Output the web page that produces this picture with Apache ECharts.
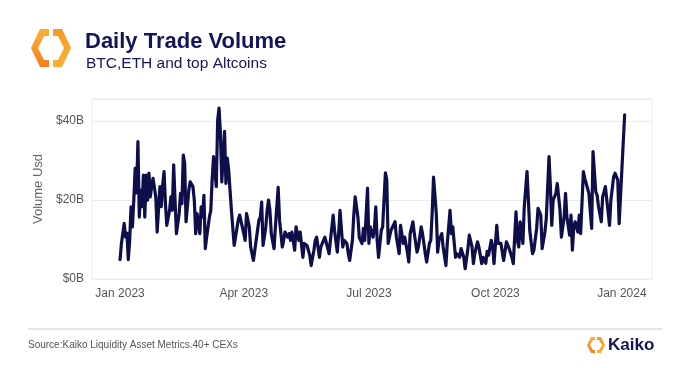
<!DOCTYPE html>
<html>
<head>
<meta charset="utf-8">
<script src="https://cdn.jsdelivr.net/npm/echarts@6/dist/echarts.min.js"></script>
<style>
html,body{margin:0;padding:0;background:#fff;}
#chart{width:680px;height:368px;}
</style>
</head>
<body>
<div id="chart"></div>
<script>
// ---- data ----
const startDate = [2023, 0, 1];
const dayOffsets = [0,1,3,4,5,6,7,8,9,10,11,12,13,14,15,16,17,18,19,20,21,22,23,24,26,27,29,30,31,32,33,34,36,37,38,39,40,41,43,44,45,46,47,48,50,51,53,54,55,56,58,59,60,61,62,63,65,66,67,68,70,71,72,73,74,76,77,78,79,81,83,84,86,87,88,90,91,92,94,95,97,99,101,102,103,104,106,107,108,109,110,112,113,115,116,118,119,120,122,123,124,125,127,128,129,130,131,133,134,135,136,138,139,141,142,143,145,146,148,149,150,152,153,155,156,158,159,160,162,163,165,166,167,169,170,171,173,174,176,177,178,180,181,182,184,185,186,187,188,190,191,193,194,195,197,198,200,201,203,204,206,207,209,210,211,213,214,216,217,219,220,222,223,225,226,227,228,230,231,232,234,235,237,238,240,241,242,244,245,247,248,250,251,253,254,256,257,258,260,261,263,264,266,267,268,270,271,272,274,275,277,278,279,281,282,283,285,286,288,289,290,291,293,294,296,297,298,300,301,303,304,306,307,309,310,312,313,314,315,317,318,320,321,323,324,325,327,328,329,330,331,333,334,335,337,338,340,341,343,344,346,347,348,350,351,353,354,356,357,359,360,362,363,364,367];
const volumes = [4.9,9.0,14.1,10.6,11.6,4.9,9.8,18.3,13.2,20,28.1,21.8,34.8,15.7,22.5,18.3,26.3,15.7,26.3,20,26.8,20.8,23.4,25.5,20.8,11.9,23.4,18.3,23.8,27.2,19.2,13.6,17.4,20.8,17.4,28.9,20,11.5,16.6,21.7,19.1,31.4,29.3,14.5,22.5,24.6,23.4,20,11.5,16.6,11.5,18.3,15.7,21.2,7.7,10.6,15.7,17.4,25.1,31,23.4,40.3,43.3,36.9,24.6,37.4,24.2,30.6,27.6,17.4,8.5,8.1,15,16.2,16.6,11.5,9.8,16.6,13.2,8.1,4.7,9.8,14.9,15.7,19.5,8.5,13.2,17.4,20,17.4,11.5,7.7,13.2,23.2,14.9,8.1,9.8,11.9,10.6,11.5,9.8,11.9,7.3,13.2,13.6,9.8,11.9,5.5,9,9.4,8.5,6,3.4,7.3,9.8,10.6,5.5,8.1,9.8,10.6,10.2,6.4,9.8,16.2,12.3,6.8,11.5,17.4,8.1,9.8,9,6.4,4.7,9.8,16.2,20.8,15.7,10.5,9,12.8,9.8,23,9,13.2,10.6,12.8,18.3,9.8,5.5,12.3,13.2,26.9,25.1,9,12.3,12.8,14.5,10.6,6.4,13.6,9,10.6,6.8,4.3,11.5,14.5,11.5,6.8,8.1,13.2,11.5,6.4,4.3,9,9.8,16.6,25.8,16.6,6.8,9.8,11.5,8.1,3.4,9,17.4,11.5,13.2,5.5,6.4,5.5,7.7,5.5,2.6,7.7,11.1,8.1,3.9,6.4,9.4,8.1,3.9,5.5,4,7,6,9.8,8.1,3.9,13.6,9,9,8.5,4.7,9.4,9.4,7.7,5.5,3.9,17,9.8,8.1,14.5,9,18.3,27.2,20,12.3,6.4,7.3,12.8,17.9,16.2,7.7,11.9,15.3,31,23.4,13.6,20,21.7,24.2,17.4,10.6,15.7,21.7,15.7,11.1,16.2,7.3,13.2,14.5,11.9,16.2,11.5,27.2,25.5,23,21.7,12.8,32.3,22.1,21.2,18.3,14.5,20.8,23.4,23.8,13.6,20,25.9,26.8,25.1,14,14.5,41.6];
const xTickDates = [[2023,0,1],[2023,3,1],[2023,6,1],[2023,9,1],[2024,0,1]];
const xTickLabels = ['Jan 2023','Apr 2023','Jul 2023','Oct 2023','Jan 2024'];
const yTicks = [0, 20, 40];

// ---- build ----
const DAY = 86400000;
const t0 = Date.UTC(startDate[0], startDate[1], startDate[2]);
const seriesData = dayOffsets.map((d, i) => [d, volumes[i]]);
const tickDays = xTickDates.map(a => Math.round((Date.UTC(a[0], a[1], a[2]) - t0) / DAY));
const labelMap = {};
tickDays.forEach((t, i) => { labelMap[t] = xTickLabels[i]; });

const FONT = "'Liberation Sans', Arial, Helvetica, sans-serif";
const NAVY = '#14145a';

const chart = echarts.init(document.getElementById('chart'), null, {renderer: 'canvas'});
chart.setOption({
  backgroundColor: '#ffffff',
  animation: false,
  textStyle: {fontFamily: FONT},
  grid: {left: 92, right: 28, top: 99, bottom: 89, show: true, borderColor: '#ececec', borderWidth: 1, backgroundColor: '#fff', containLabel: false},
  xAxis: {
    type: 'value',
    min: -20.4,
    max: 386.9,
    axisLine: {show: false},
    axisTick: {show: false},
    splitLine: {show: false},
    axisLabel: {
      customValues: tickDays,
      formatter: v => labelMap[v] || '',
      color: '#555', fontSize: 12, margin: 9, fontFamily: FONT
    }
  },
  yAxis: {
    type: 'value',
    min: 0, max: 45.6, interval: 20,
    name: 'Volume Usd', nameLocation: 'middle', nameGap: 44,
    nameTextStyle: {color: '#666', fontSize: 13, fontFamily: FONT},
    axisLine: {show: false},
    axisTick: {show: false},
    axisLabel: {
      color: '#555', fontSize: 12, margin: 8, fontFamily: FONT, showMaxLabel: false,
      formatter: v => (yTicks.indexOf(v) >= 0 ? '$' + v + 'B' : '')
    },
    splitLine: {lineStyle: {color: '#ececec', width: 1}}
  },
  series: [{
    type: 'line',
    data: seriesData,
    showSymbol: false,
    symbol: 'none',
    lineStyle: {color: '#0e0e4a', width: 3.2, join: 'round', cap: 'round'},
    z: 3
  }],
  graphic: [
    // header logo
    {type: 'polygon', shape: {points: [[49,29],[40,29],[31,48],[40,67],[49,67],[49,60],[44,60],[38,48],[44,36],[49,36]]},
     style: {fill: new echarts.graphic.LinearGradient(0,0,0,1,[{offset:0,color:'#fbb034'},{offset:1,color:'#f47d20'}])}},
    {type: 'polygon', shape: {points: [[53,29],[62,29],[71,48],[62,67],[53,67],[53,60],[58,60],[64,48],[58,36],[53,36]]},
     style: {fill: new echarts.graphic.LinearGradient(0,0,0,1,[{offset:0,color:'#f79a26'},{offset:1,color:'#fbb034'}])}},
    {type: 'text', style: {x: 85, y: 42, text: 'Daily Trade Volume', font: "bold 22px " + FONT, fill: NAVY, verticalAlign: 'middle'}},
    {type: 'text', style: {x: 86, y: 64, text: 'BTC,ETH and top Altcoins', font: "15.5px " + FONT, fill: NAVY, verticalAlign: 'middle'}},
    // footer
    {type: 'line', shape: {x1: 28, y1: 329, x2: 662, y2: 329}, style: {stroke: '#dcdcdc', lineWidth: 1.5}},
    {type: 'text', style: {x: 28, y: 345, text: 'Source:Kaiko Liquidity Asset Metrics.40+ CEXs', font: "10px " + FONT, fill: '#555', verticalAlign: 'middle'}},
    {type: 'polygon', shape: {points: [[595,337],[591,337],[587,345],[591,353],[595,353],[595,350],[593,350],[590,345],[593,340],[595,340]]},
     style: {fill: new echarts.graphic.LinearGradient(0,0,0,1,[{offset:0,color:'#fbb034'},{offset:1,color:'#f47d20'}])}},
    {type: 'polygon', shape: {points: [[597,337],[601,337],[605,345],[601,353],[597,353],[597,350],[599,350],[602,345],[599,340],[597,340]]},
     style: {fill: new echarts.graphic.LinearGradient(0,0,0,1,[{offset:0,color:'#f79a26'},{offset:1,color:'#fbb034'}])}},
    {type: 'text', style: {x: 608, y: 345, text: 'Kaiko', font: "bold 17px " + FONT, fill: NAVY, verticalAlign: 'middle'}}
  ]
});
</script>
</body>
</html>
